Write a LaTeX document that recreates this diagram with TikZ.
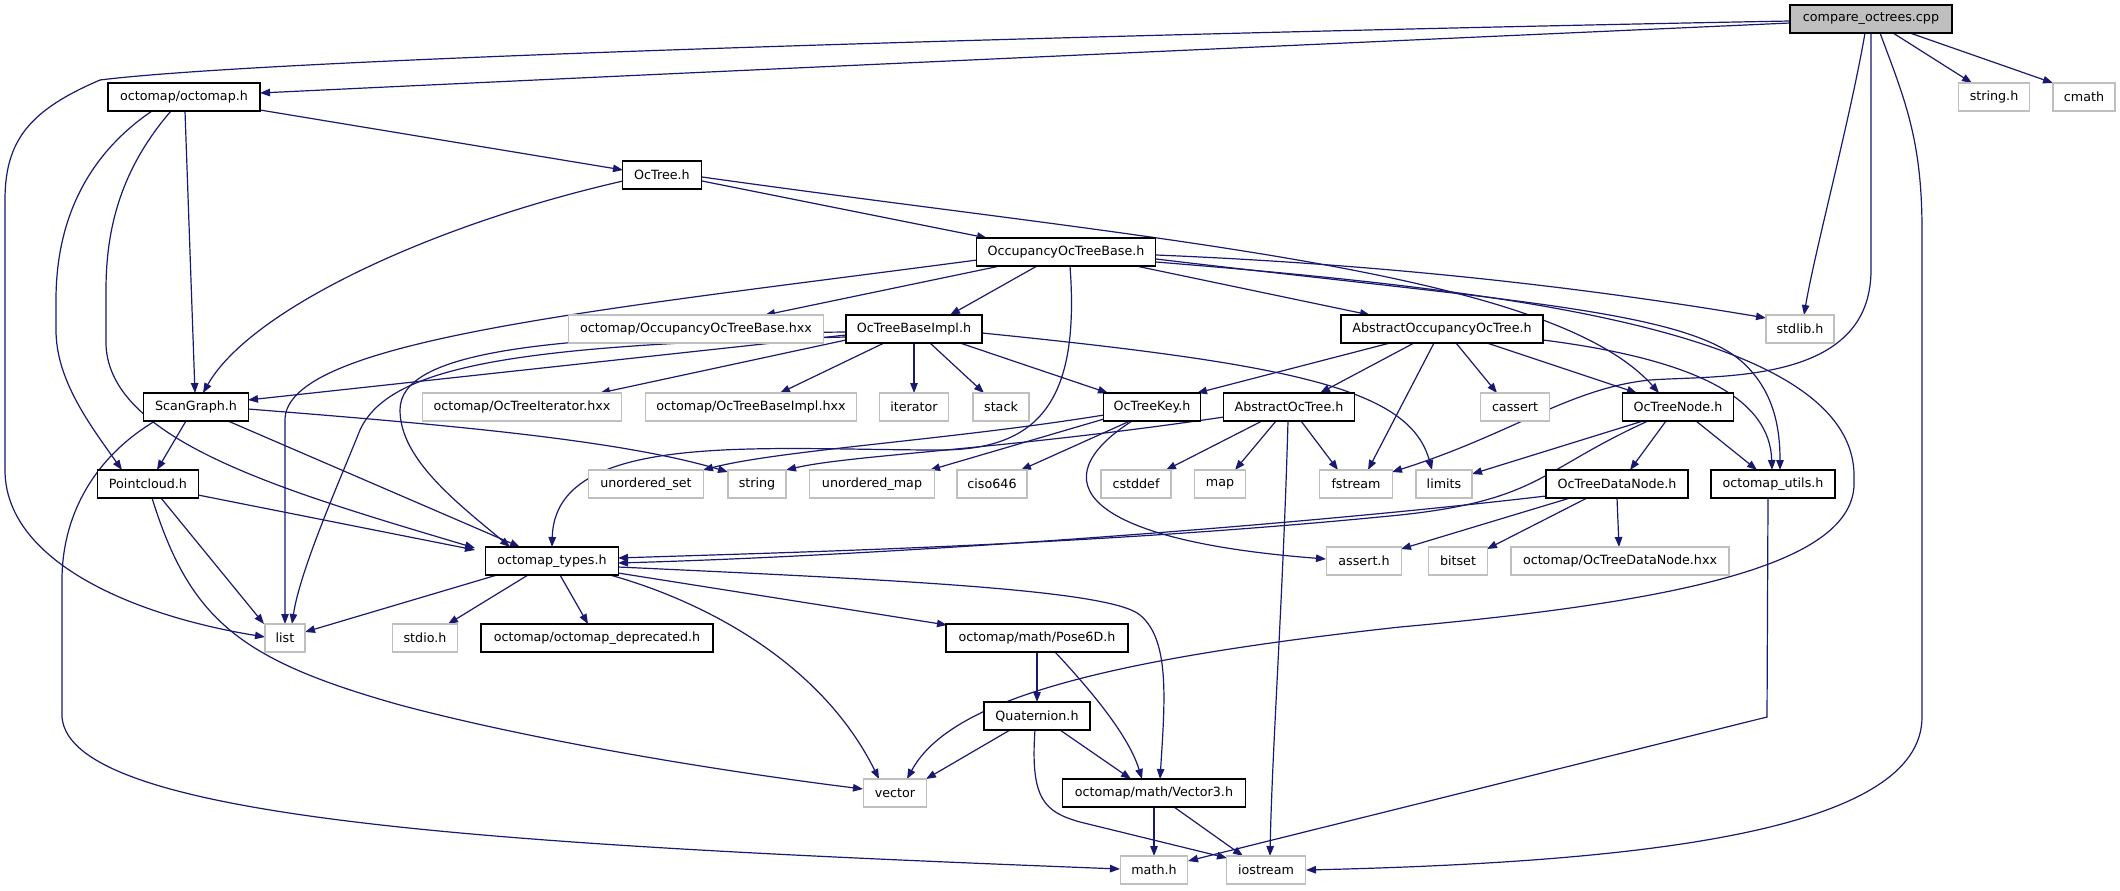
\documentclass[tikz,border=0pt]{standalone}
\usepackage{fontspec}
\setmainfont{DejaVu Sans}
\usetikzlibrary{arrows.meta,calc,backgrounds}
\definecolor{dblue}{HTML}{191970}
\definecolor{gbord}{HTML}{BFBFBF}
\begin{document}
\begin{tikzpicture}[x=1pt,y=-1pt,
  base/.style={rectangle,inner sep=0pt,minimum height=28pt,font=\fontsize{12.7}{15}\selectfont,fill=white},
  blk/.style={base,draw=black,line width=1.4pt},
  gry/.style={base,draw=gbord,line width=1.4pt},
  rootn/.style={base,draw=black,fill=gbord,line width=1.4pt},
  e/.style={draw=dblue,line width=1.2pt,-{Triangle[length=10pt,width=7.5pt]}}]
\useasboundingbox (0,0) rectangle (2120,891);
% nodes
\node[rootn,minimum width=162] (C) at (1871,19) {compare\_octrees.cpp};
\node[blk,minimum width=152] (O) at (184,97) {octomap/octomap.h};
\node[gry,minimum width=71] (sh) at (1994,97) {string.h};
\node[gry,minimum width=62] (cm) at (2084,97) {cmath};
\node[blk,minimum width=79] (T) at (662,175) {OcTree.h};
\node[blk,minimum width=179] (B) at (1066,252) {OccupancyOcTreeBase.h};
\node[gry,minimum width=255] (Bhxx) at (696,329) {octomap/OccupancyOcTreeBase.hxx};
\node[blk,minimum width=136] (I) at (914,329) {OcTreeBaseImpl.h};
\node[blk,minimum width=202] (AO) at (1442,329) {AbstractOccupancyOcTree.h};
\node[gry,minimum width=68] (sl) at (1800,329) {stdlib.h};
\node[blk,minimum width=105] (S) at (196,407) {ScanGraph.h};
\node[gry,minimum width=199] (itx) at (522,407) {octomap/OcTreeIterator.hxx};
\node[gry,minimum width=211] (Ihxx) at (751,407) {octomap/OcTreeBaseImpl.hxx};
\node[gry,minimum width=69] (it) at (914,407) {iterator};
\node[gry,minimum width=56] (st) at (1001,407) {stack};
\node[blk,minimum width=97] (K) at (1152,407) {OcTreeKey.h};
\node[blk,minimum width=131] (A) at (1289,407) {AbstractOcTree.h};
\node[gry,minimum width=69] (ca) at (1515,407) {cassert};
\node[blk,minimum width=111] (N) at (1678,407) {OcTreeNode.h};
\node[blk,minimum width=101] (P) at (148,484) {Pointcloud.h};
\node[gry,minimum width=115] (us) at (646,484) {unordered\_set};
\node[gry,minimum width=58] (str) at (757,484) {string};
\node[gry,minimum width=125] (um) at (872,484) {unordered\_map};
\node[gry,minimum width=70] (ci) at (992,484) {ciso646};
\node[gry,minimum width=70] (cd) at (1136,484) {cstddef};
\node[gry,minimum width=51] (mp) at (1220,484) {map};
\node[gry,minimum width=73] (fs) at (1356,484) {fstream};
\node[gry,minimum width=56] (lim) at (1444,484) {limits};
\node[blk,minimum width=142] (D) at (1617,484) {OcTreeDataNode.h};
\node[blk,minimum width=124] (U) at (1773,484) {octomap\_utils.h};
\node[blk,minimum width=133] (Ty) at (552,561) {octomap\_types.h};
\node[gry,minimum width=75] (as) at (1364,561) {assert.h};
\node[gry,minimum width=59] (bs) at (1458,561) {bitset};
\node[gry,minimum width=218] (Dhxx) at (1620,561) {octomap/OcTreeDataNode.hxx};
\node[gry,minimum width=40] (li) at (285,638) {list};
\node[gry,minimum width=65] (sio) at (425,638) {stdio.h};
\node[blk,minimum width=232] (dep) at (597,638) {octomap/octomap\_deprecated.h};
\node[blk,minimum width=182] (P6) at (1037,638) {octomap/math/Pose6D.h};
\node[blk,minimum width=106] (Q) at (1037,716) {Quaternion.h};
\node[gry,minimum width=63] (vec) at (895,793) {vector};
\node[blk,minimum width=183] (V3) at (1154,793) {octomap/math/Vector3.h};
\node[gry,minimum width=67] (mh) at (1154,870) {math.h};
\node[gry,minimum width=79] (io) at (1266,870) {iostream};
% edges
\begin{scope}[on background layer]
% compare_octrees.cpp
\draw[e] ($(C)+(-81,4)$) .. controls (1300,45) and (700,72) .. ($(O)+(76,-4)$);
\draw[e] ($(C)+(-81,2)$) .. controls (1300,30) and (300,55) .. (100,80) .. controls (30,110) and (5,140) .. (5,200) -- (5,470) .. controls (5,560) and (130,615) .. ($(li)+(-20,-1)$);
\draw[e] ($(C)+(-6,14)$) .. controls (1850,120) and (1815,250) .. ($(sl)+(4,-14)$);
\draw[e] ($(C)+(0,14)$) -- (1871,270) .. controls (1871,385) and (1720,375) .. (1650,380) .. controls (1570,388) and (1510,435) .. ($(fs)+(36,-12)$);
\draw[e] ($(C)+(9,14)$) .. controls (1905,100) and (1922,140) .. (1922,230) -- (1922,717) .. controls (1922,830) and (1650,862) .. ($(io)+(40,0)$);
\draw[e] ($(C)+(22,14)$) -- ($(sh)+(-22,-14)$);
\draw[e] ($(C)+(39,14)$) -- ($(cm)+(-31,-14)$);
% octomap.h
\draw[e] ($(O)+(76,13)$) -- ($(T)+(-39,-5)$);
\draw[e] ($(O)+(1,14)$) -- ($(S)+(-1,-14)$);
\draw[e] ($(O)+(-32,14)$) .. controls (80,160) and (56,230) .. (56,300) -- (56,330) .. controls (56,380) and (90,425) .. ($(P)+(-26,-14)$);
\draw[e] ($(O)+(-13,14)$) .. controls (120,170) and (106,230) .. (106,290) -- (106,345) .. controls (110,440) and (280,490) .. ($(Ty)+(-77,-13)$);
% OcTree.h
\draw[e] ($(T)+(-39,6)$) .. controls (430,225) and (250,310) .. ($(S)+(7,-14)$);
\draw[e] ($(T)+(40,6)$) -- ($(B)+(-79,-14)$);
\draw[e] ($(T)+(40,2)$) .. controls (1150,240) and (1550,270) .. ($(N)+(-19,-14)$);
% OccupancyOcTreeBase.h
\draw[e] ($(B)+(-89,8)$) .. controls (600,310) and (285,340) .. (285,420) -- ($(li)+(0,-14)$);
\draw[e] ($(B)+(-66,14)$) -- ($(Bhxx)+(69,-14)$);
\draw[e] ($(B)+(-29,14)$) -- ($(I)+(36,-14)$);
\draw[e] ($(B)+(4,14)$) .. controls (1080,400) and (1040,450) .. (940,450) .. controls (760,450) and (555,430) .. ($(Ty)+(0,-14)$);
\draw[e] ($(B)+(70,14)$) -- ($(AO)+(-72,-14)$);
\draw[e] ($(B)+(90,3)$) .. controls (1400,265) and (1600,290) .. ($(sl)+(-34,-11)$);
\draw[e] ($(B)+(90,7)$) .. controls (1500,300) and (1680,310) .. (1740,360) .. controls (1775,390) and (1780,430) .. ($(U)+(7,-14)$);
\draw[e] ($(B)+(90,10)$) .. controls (1500,290) and (1860,330) .. (1854,480) .. controls (1858,560) and (1700,600) .. (1400,627) .. controls (1100,660) and (950,700) .. ($(vec)+(12,-14)$);
% OcTreeBaseImpl.h
\draw[e] ($(I)+(-68,6)$) -- ($(S)+(52,-7)$);
\draw[e] ($(I)+(-68,8)$) .. controls (520,345) and (390,365) .. (360,430) .. controls (340,480) and (300,570) .. ($(li)+(7,-14)$);
\draw[e] ($(I)+(-68,3)$) .. controls (550,335) and (400,350) .. (400,410) .. controls (400,460) and (460,505) .. ($(Ty)+(-42,-14)$);
\draw[e] ($(I)+(-68,11)$) -- ($(itx)+(78,-14)$);
\draw[e] ($(I)+(-30,14)$) -- ($(Ihxx)+(29,-14)$);
\draw[e] ($(I)+(0,14)$) -- ($(it)+(0,-14)$);
\draw[e] ($(I)+(16,14)$) -- ($(st)+(-17,-14)$);
\draw[e] ($(I)+(46,14)$) -- ($(K)+(-44,-14)$);
\draw[e] ($(I)+(68,4)$) .. controls (1300,365) and (1410,390) .. ($(lim)+(-12,-14)$);
% AbstractOccupancyOcTree.h
\draw[e] ($(AO)+(-52,14)$) -- ($(K)+(45,-14)$);
\draw[e] ($(AO)+(-28,14)$) -- ($(A)+(31,-14)$);
\draw[e] ($(AO)+(-8,14)$) -- ($(fs)+(12,-14)$);
\draw[e] ($(AO)+(14,14)$) -- ($(ca)+(-18,-14)$);
\draw[e] ($(AO)+(45,14)$) -- ($(N)+(-41,-14)$);
\draw[e] ($(AO)+(101,11)$) .. controls (1700,360) and (1770,400) .. ($(U)+(-1,-14)$);
% OcTreeKey.h
\draw[e] ($(K)+(-48,8)$) .. controls (950,440) and (780,450) .. ($(us)+(57,-14)$);
\draw[e] ($(K)+(-48,12)$) -- ($(um)+(58,-14)$);
\draw[e] ($(K)+(-22,14)$) -- ($(ci)+(29,-14)$);
\draw[e] ($(K)+(-20,14)$) .. controls (1040,480) and (1080,540) .. ($(as)+(-38,-2)$);
% AbstractOcTree.h
\draw[e] ($(A)+(-65,10)$) .. controls (1000,450) and (850,455) .. ($(str)+(29,-14)$);
\draw[e] ($(A)+(-27,14)$) -- ($(cd)+(30,-14)$);
\draw[e] ($(A)+(-13,14)$) -- ($(mp)+(15,-14)$);
\draw[e] ($(A)+(12,14)$) -- ($(fs)+(-18,-14)$);
\draw[e] ($(A)+(-1,14)$) .. controls (1283,600) and (1272,750) .. ($(io)+(4,-14)$);
% OcTreeNode.h
\draw[e] ($(N)+(-35,14)$) -- ($(lim)+(28,-10)$);
\draw[e] ($(N)+(-30,14)$) .. controls (1540,470) and (1540,500) .. (1400,515) .. controls (1100,545) and (800,552) .. ($(Ty)+(66,-3)$);
\draw[e] ($(N)+(-12,14)$) -- ($(D)+(13,-14)$);
\draw[e] ($(N)+(18,14)$) -- ($(U)+(-16,-14)$);
% OcTreeDataNode.h
\draw[e] ($(D)+(-71,12)$) .. controls (1300,525) and (900,555) .. ($(Ty)+(66,2)$);
\draw[e] ($(D)+(-47,14)$) -- ($(as)+(37,-12)$);
\draw[e] ($(D)+(-30,14)$) -- ($(bs)+(29,-12)$);
\draw[e] ($(D)+(0,14)$) -- ($(Dhxx)+(-1,-14)$);
% octomap_utils.h
\draw[e] ($(U)+(-5,14)$) -- (1767,717) -- ($(mh)+(34,-9)$);
% ScanGraph.h
\draw[e] ($(S)+(-10,14)$) -- ($(P)+(9,-14)$);
\draw[e] ($(S)+(32,14)$) -- ($(Ty)+(-32,-14)$);
\draw[e] ($(S)+(-41,14)$) .. controls (90,460) and (62,520) .. (62,580) -- (62,717) .. controls (70,820) and (500,845) .. ($(mh)+(-34,-1)$);
\draw[e] ($(S)+(52,2)$) .. controls (450,425) and (620,440) .. ($(str)+(-29,-12)$);
% Pointcloud.h
\draw[e] ($(P)+(50,11)$) -- ($(Ty)+(-77,-11)$);
\draw[e] ($(P)+(13,14)$) -- ($(li)+(-21,-14)$);
\draw[e] ($(P)+(4,14)$) .. controls (190,620) and (240,660) .. (400,705) .. controls (550,745) and (750,775) .. ($(vec)+(-32,-4)$);
% octomap_types.h
\draw[e] ($(Ty)+(-55,14)$) -- ($(li)+(20,-6)$);
\draw[e] ($(Ty)+(-24,14)$) -- ($(sio)+(23,-14)$);
\draw[e] ($(Ty)+(8,14)$) -- ($(dep)+(-9,-14)$);
\draw[e] ($(Ty)+(66,12)$) -- ($(P6)+(-90,-13)$);
\draw[e] ($(Ty)+(58,14)$) .. controls (700,600) and (820,660) .. ($(vec)+(-16,-14)$);
\draw[e] ($(Ty)+(66,6)$) .. controls (900,580) and (1110,590) .. (1140,615) .. controls (1170,640) and (1165,700) .. ($(V3)+(6,-14)$);
% Pose6D.h
\draw[e] ($(P6)+(0,14)$) -- ($(Q)+(0,-14)$);
\draw[e] ($(P6)+(18,14)$) .. controls (1100,700) and (1130,740) .. ($(V3)+(-12,-14)$);
% Quaternion.h
\draw[e] ($(Q)+(-27,14)$) -- ($(vec)+(31,-14)$);
\draw[e] ($(Q)+(23,14)$) -- ($(V3)+(-23,-14)$);
\draw[e] ($(Q)+(-2,14)$) .. controls (1030,800) and (1045,812) .. (1080,822) -- ($(io)+(-39,-12)$);
% Vector3.h
\draw[e] ($(V3)+(0,14)$) -- ($(mh)+(0,-14)$);
\draw[e] ($(V3)+(20,14)$) -- ($(io)+(-23,-14)$);
\end{scope}
\end{tikzpicture}
\end{document}
